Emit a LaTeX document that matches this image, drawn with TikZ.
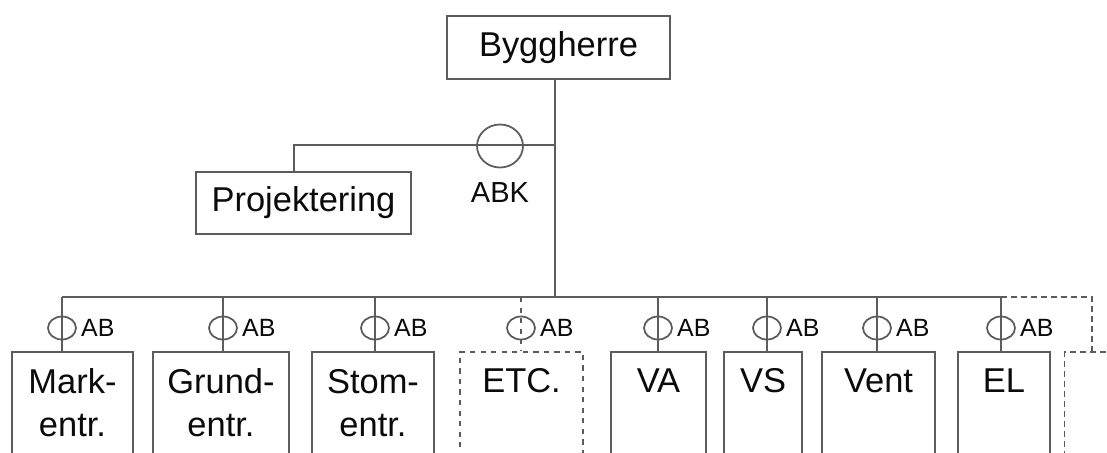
\documentclass[tikz,border=0pt]{standalone}
\usepackage{fontspec}
\setmainfont{Liberation Sans}
\usetikzlibrary{shapes.geometric,calc}
\definecolor{ink}{HTML}{0B0B0B}
\definecolor{ink2}{HTML}{5C5C5C}
\tikzset{
  every picture/.style={line cap=butt, line join=miter},
  wire/.style={draw=ink2, line width=1.1pt},
  dashwire/.style={wire, dash pattern=on 1.2mm off 0.8mm},
  box/.style={draw=ink2, fill=white, line width=1.1pt, align=center, text=ink,
    inner sep=0pt, font=\fontsize{19.6}{25}\selectfont},
  unitbox/.style={box, anchor=north, text height=#1, text depth=30mm},
  unitbox/.default=8.2mm,
  ring/.style={ellipse, draw=ink2, line width=1pt, inner sep=0pt, fill=none},
  ablbl/.style={font=\fontsize{14.2}{16}\selectfont, text=ink, inner sep=0pt},
  abklbl/.style={font=\fontsize{16.5}{19}\selectfont, text=ink, inner sep=0pt},
}
\begin{document}
\begin{tikzpicture}[x=0.2mm, y=-0.2mm]
  \useasboundingbox (0,0) rectangle (1107,452);
  \clip (0,0) rectangle (1107,452);
  % ======================= top: byggherre and projektering =======================
  \node[box, minimum width=44.6mm, minimum height=12.6mm] (byg) at (558.5,47.5) {Byggherre};
  \node[box, minimum width=43mm, minimum height=12.4mm] (proj) at (303.5,203) {Projektering};
  \coordinate (hub) at (555,297);
  \coordinate (pj) at (555,145);
  \coordinate (pk) at (294,145);
  \draw[wire] (byg.south -| hub) -- (hub);
  \draw[wire] (pj) -- (pk) -- (pk |- proj.north);
  \node[ring, minimum width=9.2mm, minimum height=8.6mm] (abk) at (500,146) {};
  \node[abklbl] (abklbl) at (500,193) {ABK};

  % ======================= bottom: entreprenader =======================
  \foreach \x/\c/\w/\h/\t/\s [count=\i] in {62/72.5/121/17/{Mark-\\entr.}/solid,
      223/221/136/17/{Grund-\\entr.}/solid, 375/373/122/17/{Stom-\\entr.}/solid,
      521/521.5/123/8.2/{ETC.}/dashed, 658/658.5/95/8.2/{VA}/solid,
      767/763/78/8.2/{VS}/solid, 877/878.5/113/8.2/{Vent}/solid,
      1001/1004/92/8.2/{EL}/solid}{
    \coordinate (t\i) at (\x,297);
    \node[unitbox=\h mm, minimum width=\w*0.2mm, \s] (m\i) at (\c,351) {\t};
    \draw[wire, \s] (t\i) -- (t\i |- m\i.north);
    \node[ring, minimum width=5.6mm, minimum height=4.6mm] (r\i) at (\x,328) {};
    \node[ablbl, anchor=west] (ab\i) at ([xshift=0.8mm]r\i.east) {AB};
  }
  \draw[wire] (t1) -- (t8);
  % more contracts, cut off at the edge
  \coordinate (t9) at (1092,297);
  \node[unitbox, minimum width=27mm, dash pattern=on 1.2mm off 0.8mm] (m9) at (1132,351) {};
  \draw[dashwire] (t8) -- (t9) -- (t9 |- m9.north);
\end{tikzpicture}
\end{document}
